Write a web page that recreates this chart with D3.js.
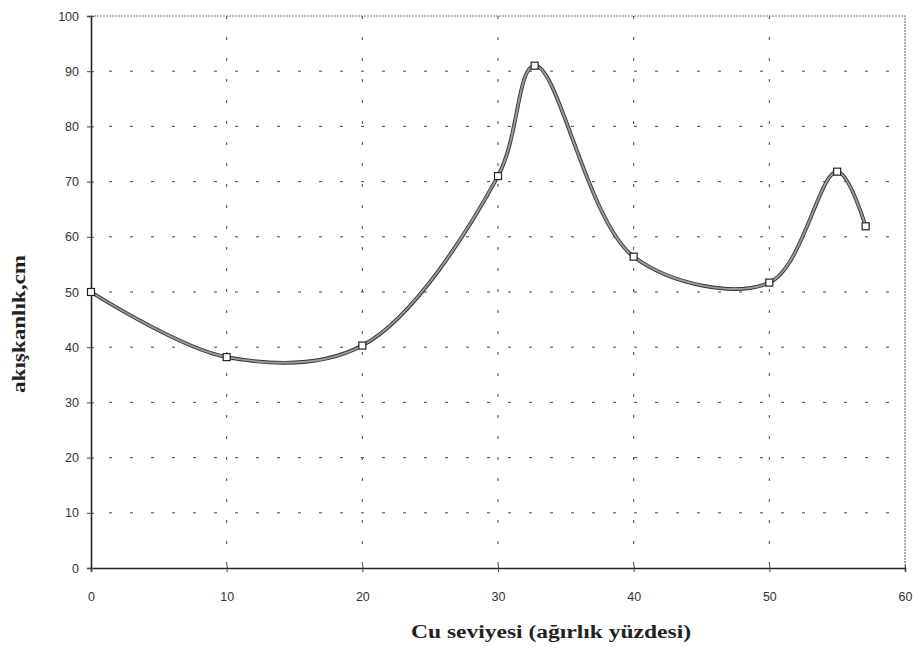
<!DOCTYPE html>
<html lang="tr">
  <head>
    <meta charset="UTF-8" />
    <title>Cu seviyesi - akışkanlık</title>
    <script src="https://d3js.org/d3.v7.min.js"></script>
    <style>
      body { margin: 0; background: #fff; }
      .tick text { font-family: 'Liberation Sans', Arial, sans-serif; font-size: 12.5px; fill: #333; }
      .title { font-family: 'Liberation Serif', 'Times New Roman', serif; font-weight: bold; font-size: 18px; fill: #222; }
    </style>
  </head>
  <body>
    <svg width="921" height="650"></svg>
    <script>
      // Cu seviyesi (ağırlık yüzdesi) ve akışkanlık (cm)
      var cuLevels = [0, 10, 20, 30, 32.7, 40, 50, 55, 57.1]
      var fluidity = [50, 38.2, 40.3, 71, 91, 56.4, 51.7, 71.8, 61.9]
      var xTicks = [0, 10, 20, 30, 40, 50, 60]
      var yTicks = [0, 10, 20, 30, 40, 50, 60, 70, 80, 90, 100]

      var svg = d3.select('svg')
      var plot = { left: 91, right: 905, top: 16, bottom: 568 }

      var x = d3.scaleLinear().domain([0, 60]).range([plot.left, plot.right])
      var y = d3.scaleLinear().domain([0, 100]).range([plot.bottom, plot.top])

      // grid
      svg.append('g')
        .selectAll('line')
        .data(yTicks.slice(1, -1))
        .enter()
        .append('line')
        .attr('x1', plot.left).attr('x2', plot.right)
        .attr('y1', d => y(d)).attr('y2', d => y(d))
        .attr('stroke', '#444').attr('stroke-width', 1)
        .attr('stroke-dasharray', '3,18')
        .attr('stroke-dashoffset', -18)
      svg.append('g')
        .selectAll('line')
        .data(xTicks.slice(1, -1))
        .enter()
        .append('line')
        .attr('x1', d => x(d)).attr('x2', d => x(d))
        .attr('y1', plot.top).attr('y2', plot.bottom)
        .attr('stroke', '#444').attr('stroke-width', 1)
        .attr('stroke-dasharray', '3,18')

      // top and right border
      svg.append('path')
        .attr('d', `M${plot.left},${plot.top}H${plot.right}V${plot.bottom}`)
        .attr('fill', 'none')
        .attr('stroke', '#777')
        .attr('stroke-width', 1.2)
        .attr('stroke-dasharray', '2,1')

      // axes
      var xAxis = d3.axisBottom(x).tickValues(xTicks).tickSize(4).tickPadding(20)
      var yAxis = d3.axisLeft(y).tickValues(yTicks).tickSize(4).tickPadding(8)
      var gx = svg.append('g').attr('transform', `translate(0,${plot.bottom})`).call(xAxis)
      var gy = svg.append('g').attr('transform', `translate(${plot.left},0)`).call(yAxis)
      ;[gx, gy].forEach(g => {
        g.select('.domain').attr('stroke', '#222').attr('stroke-width', 1.6)
        g.selectAll('.tick line').attr('stroke', '#444')
      })
      gx.selectAll('.tick line').attr('y1', -3)
      gy.selectAll('.tick line').attr('x1', 3)

      // curve
      var pts = cuLevels.map((c, i) => [c, fluidity[i]])
      var line = d3.line()
        .x(d => x(d[0]))
        .y(d => y(d[1]))
        .curve(d3.curveCatmullRom.alpha(0.5))
      svg.append('path')
        .attr('d', line(pts))
        .attr('fill', 'none')
        .attr('stroke', '#333')
        .attr('stroke-width', 3.8)
      svg.append('path')
        .attr('d', line(pts))
        .attr('fill', 'none')
        .attr('stroke', '#9a9a9a')
        .attr('stroke-width', 2)

      // markers
      svg.append('g')
        .selectAll('rect')
        .data(pts)
        .enter()
        .append('rect')
        .attr('x', d => x(d[0]) - 3.5)
        .attr('y', d => y(d[1]) - 3.5)
        .attr('width', 7)
        .attr('height', 7)
        .attr('fill', '#fff')
        .attr('stroke', '#222')
        .attr('stroke-width', 1.2)

      // titles
      svg.append('text')
        .attr('class', 'title')
        .attr('x', 551).attr('y', 638)
        .attr('text-anchor', 'middle')
        .attr('textLength', 280)
        .attr('lengthAdjust', 'spacingAndGlyphs')
        .text('Cu seviyesi (ağırlık yüzdesi)')
      svg.append('text')
        .attr('class', 'title')
        .attr('transform', 'translate(25,324) rotate(-90)')
        .attr('text-anchor', 'middle')
        .attr('textLength', 138)
        .attr('lengthAdjust', 'spacingAndGlyphs')
        .text('akışkanlık,cm')
    </script>
  </body>
</html>
